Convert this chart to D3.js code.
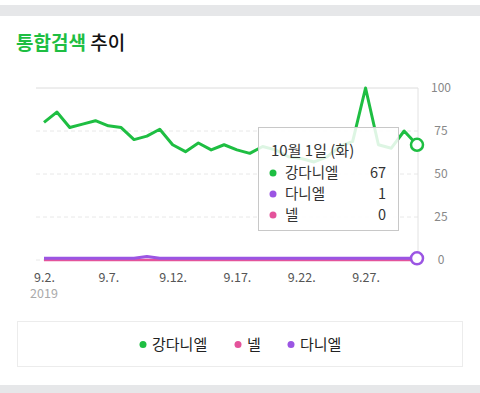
<!DOCTYPE html>
<html>
<head>
<meta charset="utf-8">
<script src="https://cdn.jsdelivr.net/npm/d3@7"></script>
<style>
    body { margin: 0; background: #fff; }
    #chart { width: 480px; height: 393px; }
    text { font-family: "Noto Sans CJK KR", "Noto Sans", sans-serif; }
</style>
</head>
<body>
<div id="chart"></div>
<script>
const dates = [
    "2019-09-02", "2019-09-03", "2019-09-04", "2019-09-05", "2019-09-06",
    "2019-09-07", "2019-09-08", "2019-09-09", "2019-09-10", "2019-09-11",
    "2019-09-12", "2019-09-13", "2019-09-14", "2019-09-15", "2019-09-16",
    "2019-09-17", "2019-09-18", "2019-09-19", "2019-09-20", "2019-09-21",
    "2019-09-22", "2019-09-23", "2019-09-24", "2019-09-25", "2019-09-26",
    "2019-09-27", "2019-09-28", "2019-09-29", "2019-09-30", "2019-10-01"
];

const kang_daniel = [80, 86, 77, 79, 81, 78, 77, 70, 72, 76, 67, 63, 68, 64, 67,
                     64, 62, 66, 64, 60, 59, 57, 60, 66, 69, 100, 67, 65, 75, 67];
const daniel = [1, 1, 1, 1, 1, 1, 1, 1, 2, 1, 1, 1, 1, 1, 1,
                1, 1, 1, 1, 1, 1, 1, 1, 1, 1, 1, 1, 1, 1, 1];
const nell = [0, 0, 0, 0, 0, 0, 0, 0, 0, 0, 0, 0, 0, 0, 0,
              0, 0, 0, 0, 0, 0, 0, 0, 0, 0, 0, 0, 0, 0, 0];

const tick_dates = ["2019-09-02", "2019-09-07", "2019-09-12", "2019-09-17", "2019-09-22", "2019-09-27"];
const tick_labels = ["9.2.", "9.7.", "9.12.", "9.17.", "9.22.", "9.27."];
const y_ticks = [0, 25, 50, 75, 100];

const series_names = ["강다니엘", "다니엘", "넬"];
const legend_names = ["강다니엘", "넬", "다니엘"];
const tooltip_title = "10월 1일 (화)";

class TrendChart {

    colors = {"강다니엘": "#1ebe42", "다니엘": "#9b55e3", "넬": "#e4539b"};
    plot = {left: 36, right: 418, top: 88, bottom: 260, pad: 8};

    constructor(container) {
        this.svg = d3.select(container).append("svg")
            .attr("width", 480)
            .attr("height", 393);
        this.series = {"강다니엘": kang_daniel, "다니엘": daniel, "넬": nell};
    }

    draw() {
        this._setFrame();
        this._setScales();
        this._setGrid();
        this._setAxes();
        this._setLines();
        this._setTooltip();
        this._setLegend();
    }

    _setFrame() {
        this.svg.append("rect").attr("x", 0).attr("y", 5).attr("width", 480).attr("height", 11)
            .attr("fill", "#e6e7e9");
        this.svg.append("rect").attr("x", 0).attr("y", 385).attr("width", 480).attr("height", 8)
            .attr("fill", "#e6e7e9");

        let title = this.svg.append("text")
            .attr("x", 16).attr("y", 50)
            .attr("font-size", 19)
            .attr("font-weight", "bold");
        title.append("tspan").attr("fill", "#1ebe42").text("통합검색");
        title.append("tspan").attr("fill", "#111").attr("font-weight", "500").text(" 추이");
    }

    _setScales() {
        let p = this.plot;
        this.x_scale = d3.scalePoint()
            .domain(dates)
            .range([p.left + p.pad, p.right - 1]);
        this.y_scale = d3.scaleLinear()
            .domain([0, 100])
            .range([p.bottom, p.top]);
    }

    _setGrid() {
        let p = this.plot;
        this.svg.append("g")
            .selectAll("line")
            .data(y_ticks)
            .enter()
            .append("line")
            .attr("x1", p.left).attr("x2", p.right)
            .attr("y1", d => this.y_scale(d)).attr("y2", d => this.y_scale(d))
            .attr("stroke", d => d === 100 ? "#dcdcdc" : "#e8e8e8")
            .attr("stroke-dasharray", d => d === 100 ? null : "4,3");

        this.svg.append("line")
            .attr("x1", p.right).attr("x2", p.right)
            .attr("y1", p.top).attr("y2", p.bottom)
            .attr("stroke", "#e2e2e2");
    }

    _setAxes() {
        let label_of = d => tick_labels[tick_dates.indexOf(d)];

        let x_axis = this.svg.append("g")
            .attr("transform", "translate(0," + this.plot.bottom + ")")
            .call(d3.axisBottom(this.x_scale).tickValues(tick_dates).tickFormat(label_of).tickSize(0).tickPadding(13))
            .call(g => g.select(".domain").remove());
        x_axis.selectAll("text")
            .attr("font-size", 12.5)
            .attr("fill", "#555")
            .attr("font-family", "Roboto, sans-serif");

        this.svg.append("text")
            .attr("x", this.x_scale(dates[0]))
            .attr("y", 298)
            .attr("text-anchor", "middle")
            .attr("font-size", 12.5)
            .attr("fill", "#aaa")
            .attr("font-family", "Roboto, sans-serif")
            .text("2019");

        let y_axis = this.svg.append("g")
            .attr("transform", "translate(" + this.plot.right + ",0)")
            .call(d3.axisRight(this.y_scale).tickValues(y_ticks).tickSize(0).tickPadding(23))
            .call(g => g.select(".domain").remove());
        y_axis.selectAll("text")
            .attr("text-anchor", "middle")
            .attr("font-size", 12)
            .attr("fill", "#888")
            .attr("font-family", "Roboto, sans-serif");
    }

    _setLines() {
        let line = d3.line()
            .x((d, i) => this.x_scale(dates[i]))
            .y(d => this.y_scale(d));

        let draw_order = ["넬", "다니엘", "강다니엘"];
        draw_order.forEach(name => {
            this.svg.append("path")
                .attr("fill", "none")
                .attr("stroke", this.colors[name])
                .attr("stroke-width", name === "넬" ? 2.5 : 3)
                .attr("stroke-linejoin", "round")
                .attr("d", line(this.series[name]));
        });

        let last = dates.length - 1;
        ["다니엘", "강다니엘"].forEach(name => {
            this.svg.append("circle")
                .attr("cx", this.x_scale(dates[last]))
                .attr("cy", this.y_scale(this.series[name][last]))
                .attr("r", 6)
                .attr("fill", "#fff")
                .attr("stroke", this.colors[name])
                .attr("stroke-width", 2.5);
        });
    }

    _setTooltip() {
        let last = dates.length - 1;
        let tip = this.svg.append("g").attr("transform", "translate(258,127)");

        tip.append("rect")
            .attr("x", 0.5).attr("y", 0.5)
            .attr("width", 140).attr("height", 103)
            .attr("fill", "#fff").attr("fill-opacity", 0.85)
            .attr("stroke", "#c8c8c8");

        tip.append("text")
            .attr("x", 13).attr("y", 29)
            .attr("font-size", 15)
            .attr("fill", "#333")
            .text(tooltip_title);

        series_names.forEach((name, i) => {
            let y = 51 + i * 21;
            tip.append("circle")
                .attr("cx", 15).attr("cy", y - 5).attr("r", 3.5)
                .attr("fill", this.colors[name]);
            tip.append("text")
                .attr("x", 27).attr("y", y)
                .attr("font-size", 14.5).attr("fill", "#333")
                .text(name);
            tip.append("text")
                .attr("x", 128).attr("y", y)
                .attr("text-anchor", "end")
                .attr("font-size", 14.5).attr("fill", "#333")
                .text(this.series[name][last]);
        });
    }

    _setLegend() {
        this.svg.append("rect")
            .attr("x", 17.5).attr("y", 321.5)
            .attr("width", 445).attr("height", 45)
            .attr("fill", "#fff")
            .attr("stroke", "#ececec");

        let legend_x = [143, 238, 291];
        legend_names.forEach((name, i) => {
            this.svg.append("circle")
                .attr("cx", legend_x[i]).attr("cy", 344.5).attr("r", 3.5)
                .attr("fill", this.colors[name]);
            this.svg.append("text")
                .attr("x", legend_x[i] + 9).attr("y", 350)
                .attr("font-size", 15).attr("fill", "#222")
                .text(name);
        });
    }
}

let chart = new TrendChart("#chart");
chart.draw();
</script>
</body>
</html>
